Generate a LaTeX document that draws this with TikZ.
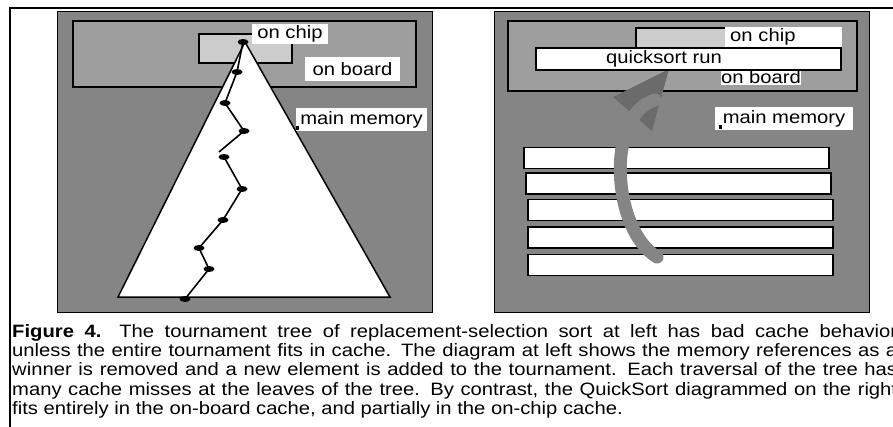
\documentclass[tikz,border=0pt]{standalone}
\usepackage{fontspec}
\setmainfont{Liberation Sans}[FakeStretch=1.13]
\usepackage{xcolor}
\usepackage{tikz}
\usetikzlibrary{shapes.geometric}
\definecolor{memgray}{gray}{0.52}
\definecolor{boardgray}{gray}{0.62}
\definecolor{chipgray}{gray}{0.80}
\definecolor{arrowgray}{gray}{0.52}
\definecolor{headgray}{gray}{0.42}

\begin{document}
\begin{tikzpicture}[x=1pt,y=-1pt,
  font=\fontsize{17.9}{19.3}\selectfont,
  mem/.style={draw, line width=0.8pt, fill=memgray},
  board/.style={draw, line width=1.3pt, fill=boardgray},
  chip/.style={draw, line width=1.3pt, fill=chipgray},
  lbl/.style={fill=white, inner sep=0pt},
  run/.style={draw, line width=1.4pt, fill=white, minimum width=305pt, minimum height=21pt, inner sep=0pt},
  dot/.style={ellipse, fill=black, inner sep=0pt, minimum width=11pt, minimum height=6pt}]
\useasboundingbox (0,0) rectangle (893,427);
\fill[white] (0,0) rectangle (893,427);
% ----- frame
\draw[line width=2pt] (10,427) -- (10,8) -- (900,8);
% ----- left: tournament tree
\draw[mem] (57,11) rectangle (432,312);
\draw[board] (73,21) rectangle (416,87);
\draw[chip] (199,34) rectangle (292,63);
\draw[line width=1.5pt, fill=white] (245,42) -- (118,297) -- (390,297) -- cycle;
\foreach \n/\x/\y in {1/243/42, 2/237/72, 3/225/103, 4/244/131, 5/224/157,
                      6/242/189, 7/223/220, 8/199/248, 9/209/269, 10/185/299}
  \node[dot] (d\n) at (\x,\y) {};
\coordinate (brk) at (219,152);
\draw[line width=1.6pt] (d1.center) -- (d2.center) -- (d3.center) -- (d4.center) -- (brk);
\draw[line width=1.6pt] (d5.center) -- (d6.center) -- (d7.center) -- (d8.center) -- (d9.center) -- (d10.center);
\node[lbl, minimum width=76pt, minimum height=20pt] (lchip) at (290,34) {on chip};
\node[lbl, minimum width=95pt, minimum height=24pt] (lboard) at (352.5,69) {on board};
\node[lbl, minimum width=131pt, minimum height=23pt] (lmem) at (361.5,119.5) {main memory};
\fill (296,126) rectangle (299,130);
% ----- right: quicksort
\draw[mem] (494,11) rectangle (869,312);
\draw[board] (508,21) rectangle (857,91);
\draw[chip] (636,28) rectangle (800,60);
\node[lbl, text width=107pt, inner xsep=5pt, align=left, minimum height=20pt] (rchip) at (783.5,37) {on chip};
\node[lbl, minimum width=80pt, minimum height=17pt] (rboard) at (761,77) {on board};
\node[lbl, minimum width=138pt, minimum height=23pt] (rmem) at (784,118.5) {main memory};
\fill (719,125) rectangle (722,129);
\foreach \n/\x/\y in {1/676.5/158, 2/678.5/183.5, 3/680.5/210, 4/680.5/237.5, 5/680.5/265}
  \node[run] (run\n) at (\x,\y) {};
\coordinate (tail) at (657,257);
\coordinate (tip) at (669,69);
\fill[headgray] (tip) -- (613,97) -- (652,131) -- cycle;
\draw[arrowgray, line width=13pt, line cap=round] (tail) .. controls (612,230) and (605,115) .. (655,100);
\node[run, minimum width=305pt, minimum height=22pt] (qs) at (688.5,59) {\hspace*{-49pt}quicksort run};
% ----- caption
\node[anchor=north west, inner sep=0pt, align=left] (cap) at (12,324) {%
\makebox[885pt][s]{\textbf{Figure 4.}\quad The tournament tree of replacement-selection sort at left has bad cache behavior}\\
\makebox[885pt][s]{unless the entire tournament fits in cache.  The diagram at left shows the memory references as a}\\
\makebox[885pt][s]{winner is removed and a new element is added to the tournament.  Each traversal of the tree has}\\
\makebox[885pt][s]{many cache misses at the leaves of the tree.  By contrast, the QuickSort diagrammed on the right}\\
fits entirely in the on-board cache, and partially in the on-chip cache.};
\end{tikzpicture}
\end{document}
